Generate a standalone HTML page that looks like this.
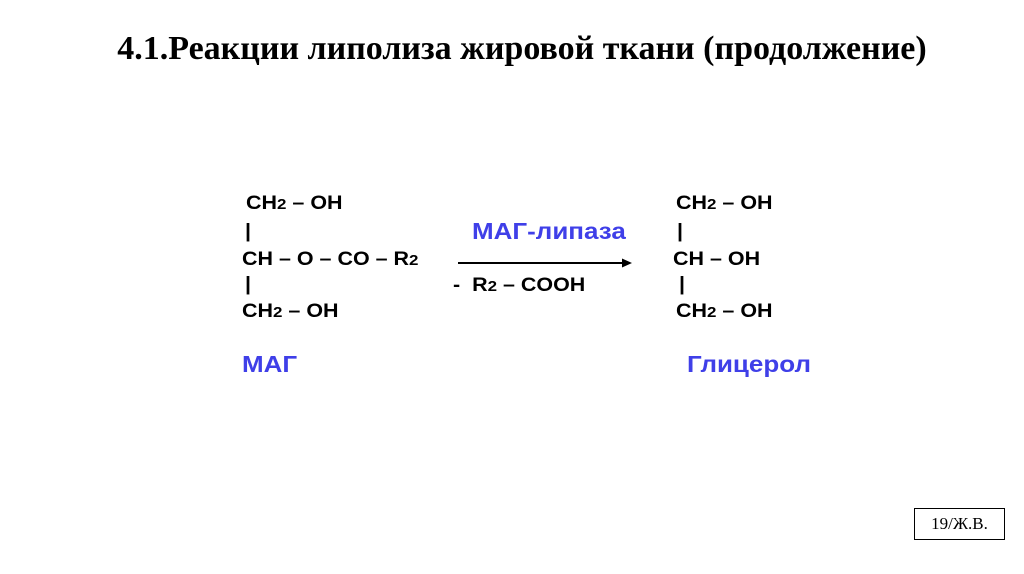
<!DOCTYPE html>
<html><head><meta charset="utf-8"><style>
body{margin:0;width:1024px;height:574px;background:#fff;position:relative;overflow:hidden}
.t{position:absolute;font-family:"Liberation Sans",sans-serif;font-weight:bold;font-size:19px;color:#000;white-space:nowrap;line-height:1;transform:scaleX(1.13);transform-origin:left top}
.s{font-size:15px}
.b{color:#3f3fe8;font-size:23px}
h1{position:absolute;left:10px;width:1024px;top:30px;margin:0;text-align:center;font-family:"Liberation Serif",serif;font-weight:bold;font-size:34px;color:#000;white-space:nowrap}
.box{position:absolute;left:914px;top:508px;width:89px;height:30px;border:1.5px solid #000;font-family:"Liberation Serif",serif;font-size:17px;text-align:center;line-height:30px}
</style></head><body>
<h1>4.1.Реакции липолиза жировой ткани (продолжение)</h1>
<div class="t" style="left:246px;top:194px">CH<span class="s">2</span> – OH</div>
<div class="t" style="left:245px;top:222px">|</div>
<div class="t" style="left:242px;top:250px">CH – O – CO – R<span class="s">2</span></div>
<div class="t" style="left:245px;top:275px">|</div>
<div class="t" style="left:242px;top:302px">CH<span class="s">2</span> – OH</div>
<div class="t b" style="left:242px;top:353px">МАГ</div>
<div class="t b" style="left:472px;top:220px">МАГ-липаза</div>
<div class="t" style="left:453px;top:276px">- &nbsp;R<span class="s">2</span> – COOH</div>
<svg style="position:absolute;left:0;top:0" width="1024" height="574"><line x1="458" y1="263" x2="624" y2="263" stroke="#000" stroke-width="2"/><polygon points="632,263 622,258.5 622,267.5" fill="#000"/></svg>
<div class="t" style="left:676px;top:194px">CH<span class="s">2</span> – OH</div>
<div class="t" style="left:677px;top:222px">|</div>
<div class="t" style="left:673px;top:250px">CH – OH</div>
<div class="t" style="left:679px;top:275px">|</div>
<div class="t" style="left:676px;top:302px">CH<span class="s">2</span> – OH</div>
<div class="t b" style="left:687px;top:353px">Глицерол</div>
<div class="box">19/Ж.В.</div>
</body></html>
